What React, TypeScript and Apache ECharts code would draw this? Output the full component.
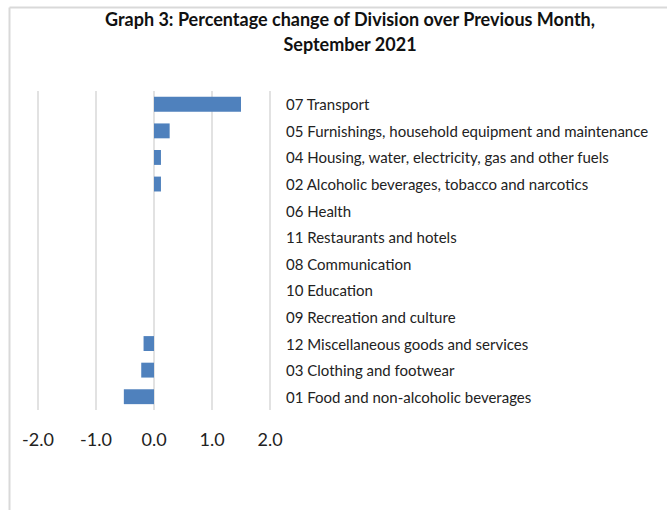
import React, { useEffect, useRef } from "react";
import * as echarts from "echarts";

const categories = [
  "07 Transport",
  "05 Furnishings, household equipment and maintenance",
  "04 Housing, water, electricity, gas and other fuels",
  "02 Alcoholic beverages, tobacco and narcotics",
  "06 Health",
  "11 Restaurants and hotels",
  "08 Communication",
  "10 Education",
  "09 Recreation and culture",
  "12 Miscellaneous goods and services",
  "03 Clothing and footwear",
  "01 Food and non-alcoholic beverages",
];

const values = [1.5, 0.27, 0.12, 0.12, 0, 0, 0, 0, 0, -0.18, -0.22, -0.52];

const titleLines = [
  "Graph 3: Percentage change of Division over Previous Month,",
  "September 2021",
];

export default function App() {
  const ref = useRef<HTMLDivElement>(null);
  useEffect(() => {
    if (!ref.current) return;
    const chart = echarts.init(ref.current, null, { renderer: "svg" });
    chart.setOption({
      animation: false,
      backgroundColor: "#ffffff",
      title: {
        text: titleLines.join("\n"),
        left: 350,
        top: 6,
        textAlign: "center",
        padding: 0,
        textStyle: {
          fontFamily: "Lato",
          fontWeight: "bold",
          fontSize: 18,
          lineHeight: 25,
          color: "#111",
        },
      },
      graphic: [
        {
          type: "line",
          shape: { x1: 9.5, y1: 7.5, x2: 667, y2: 7.5 },
          style: { stroke: "#d9d9d9", lineWidth: 2 },
        },
        {
          type: "line",
          shape: { x1: 9.5, y1: 7.5, x2: 9.5, y2: 510 },
          style: { stroke: "#d9d9d9", lineWidth: 2 },
        },
      ],
      grid: { left: 38, right: 397, top: 91, bottom: 100, containLabel: false },
      xAxis: {
        type: "value",
        min: -2,
        max: 2,
        interval: 1,
        axisLine: { show: false },
        axisTick: { show: false },
        splitLine: { show: true, lineStyle: { color: "#d9d9d9", width: 1.5 } },
        axisLabel: {
          margin: 20,
          fontFamily: "Lato",
          fontSize: 18,
          color: "#222",
          formatter: (v: number) => v.toFixed(1),
        },
      },
      yAxis: {
        type: "category",
        data: categories,
        inverse: true,
        position: "right",
        axisLine: { show: false },
        axisTick: { show: false },
        splitLine: { show: false },
        axisLabel: {
          margin: 16,
          fontFamily: "Lato",
          fontSize: 15,
          color: "#222",
          align: "left",
        },
      },
      series: [
        {
          type: "bar",
          data: values,
          barCategoryGap: "44%",
          itemStyle: { color: "#4f81bd" },
        },
      ],
    });
    return () => chart.dispose();
  }, []);
  return (
    <div
      ref={ref}
      style={{ position: "fixed", left: 0, top: 0, width: 667, height: 510 }}
    />
  );
}
